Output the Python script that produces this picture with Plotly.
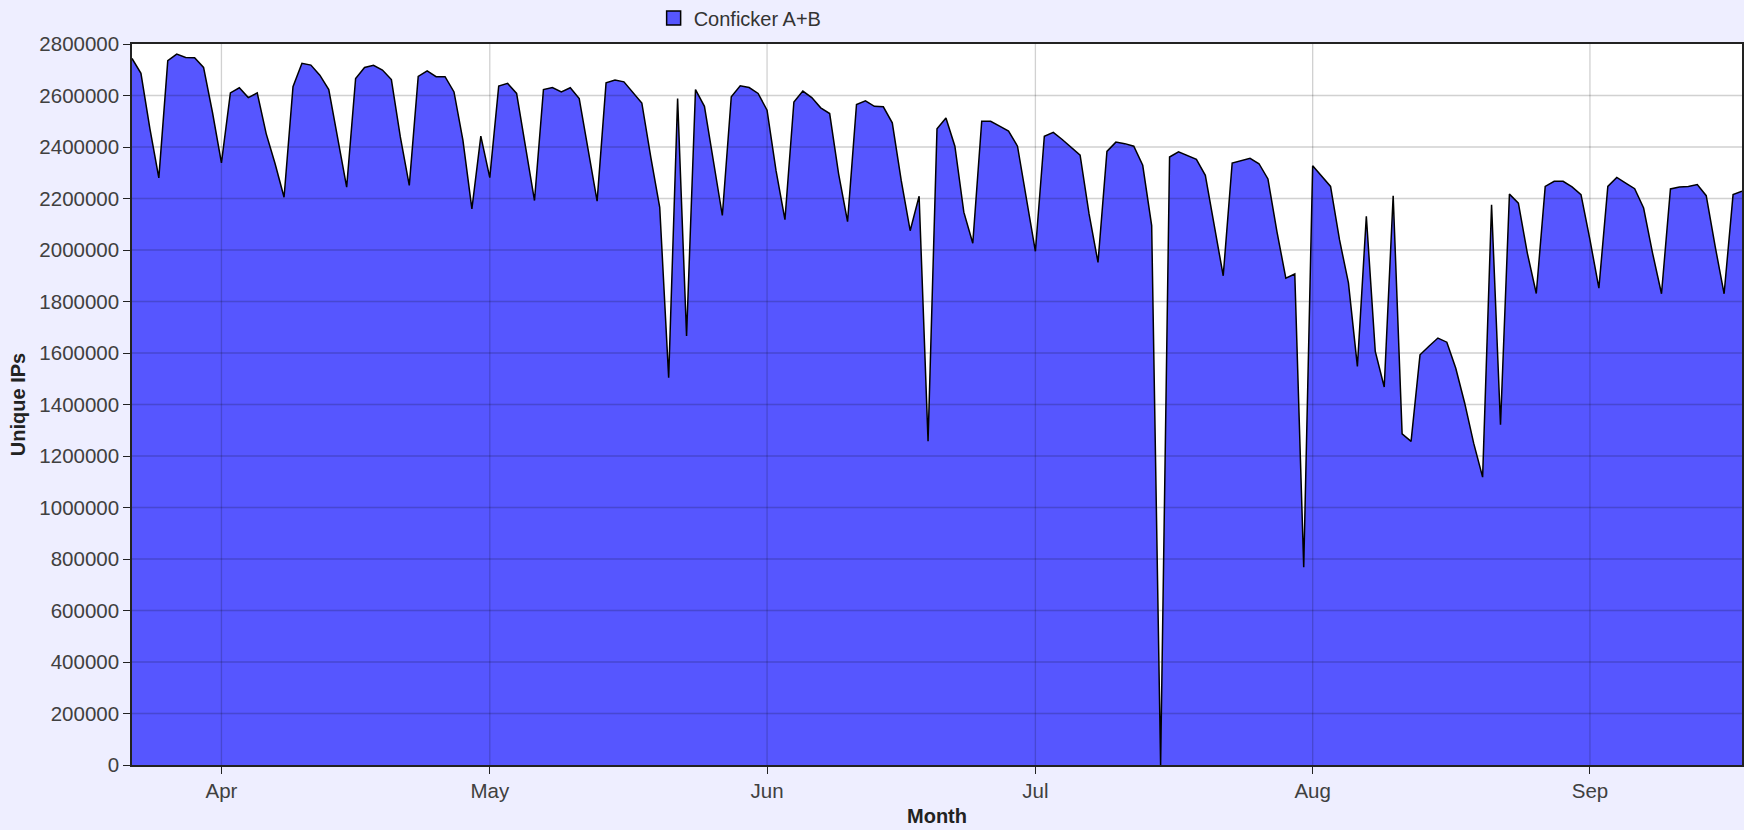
import pandas as pd
import plotly.graph_objects as go

# ---- data (daily unique IPs, 2009-03-22 .. 2009-09-18) ----
start_date = "2009-03-22"
mar_values = [2744000, 2686000, 2471000, 2280000, 2735000, 2761000, 2748000, 2747000, 2709000, 2534000]
apr_values = [2338000, 2610000, 2630000, 2592000, 2610000, 2452000, 2335000, 2205000, 2634000, 2725000,
              2718000, 2679000, 2623000, 2439000, 2244000, 2666000, 2709000, 2717000, 2699000, 2662000,
              2439000, 2251000, 2674000, 2696000, 2673000, 2673000, 2614000, 2426000, 2160000, 2442000]
may_values = [2281000, 2637000, 2647000, 2608000, 2400000, 2192000, 2623000, 2631000, 2614000, 2630000,
              2588000, 2387000, 2190000, 2649000, 2660000, 2653000, 2610000, 2571000, 2361000, 2166000,
              1504000, 2588000, 1666000, 2623000, 2558000, 2342000, 2134000, 2595000, 2638000, 2631000,
              2608000]
jun_values = [2543000, 2309000, 2118000, 2575000, 2617000, 2592000, 2552000, 2530000, 2296000, 2110000,
              2565000, 2579000, 2558000, 2556000, 2494000, 2270000, 2075000, 2209000, 1257000, 2471000,
              2513000, 2403000, 2147000, 2026000, 2500000, 2500000, 2481000, 2462000, 2403000, 2199000]
jul_values = [1995000, 2442000, 2457000, 2429000, 2400000, 2368000, 2140000, 1952000, 2383000, 2419000,
              2413000, 2403000, 2329000, 2095000, 0, 2361000, 2381000, 2368000, 2352000, 2290000,
              2088000, 1900000, 2338000, 2348000, 2356000, 2335000, 2276000, 2072000, 1891000, 1907000,
              768000]
aug_values = [2327000, 2286000, 2247000, 2040000, 1872000, 1548000, 2131000, 1606000, 1468000, 2211000,
              1286000, 1257000, 1593000, 1626000, 1658000, 1642000, 1541000, 1405000, 1250000, 1118000,
              2176000, 1321000, 2217000, 2182000, 1988000, 1831000, 2247000, 2267000, 2267000, 2245000,
              2215000]
sep_values = [2040000, 1852000, 2247000, 2282000, 2260000, 2238000, 2163000, 1988000, 1830000, 2237000,
              2245000, 2247000, 2254000, 2211000, 2014000, 1830000, 2215000, 2228000]

series_name = "Conficker A+B"
month_tick_dates = ["2009-04-01", "2009-05-01", "2009-06-01", "2009-07-01", "2009-08-01", "2009-09-01"]
month_tick_labels = ["Apr", "May", "Jun", "Jul", "Aug", "Sep"]
y_tick_values = list(range(0, 2800001, 200000))

values = mar_values + apr_values + may_values + jun_values + jul_values + aug_values + sep_values
dates = pd.date_range(start_date, periods=len(values), freq="D")

FONT = "Liberation Sans, Arial, sans-serif"
FILL = "rgb(86,86,255)"
BG = "rgb(238,238,255)"
GRID = "rgba(12,12,12,0.19)"

fig = go.Figure()
fig.add_trace(go.Scatter(
    x=dates, y=values, mode="lines", fill="tozeroy",
    fillcolor=FILL, line=dict(color="black", width=1.5),
    showlegend=False, hoverinfo="x+y",
))
# legend swatch entry
fig.add_trace(go.Scatter(
    x=[None], y=[None], mode="markers", name=series_name,
    marker=dict(symbol="square", size=14, color=FILL, line=dict(color="black", width=1.5)),
))

# grid lines drawn above the filled area (as in the reference)
shapes = []
for v in y_tick_values[1:-1]:
    shapes.append(dict(type="line", xref="paper", yref="y", x0=0, x1=1, y0=v, y1=v,
                       line=dict(color=GRID, width=1.3), layer="above"))
for d in month_tick_dates:
    shapes.append(dict(type="line", xref="x", yref="paper", x0=d, x1=d, y0=0, y1=1,
                       line=dict(color=GRID, width=1.3), layer="above"))

fig.update_layout(
    width=1744, height=830,
    paper_bgcolor=BG, plot_bgcolor="white",
    margin=dict(l=132, r=2, t=44, b=65, pad=0, autoexpand=False),
    font=dict(family=FONT, size=20, color="#404040"),
    shapes=shapes,
    legend=dict(x=0.324, xanchor="left", yref="container", y=0.9783, yanchor="middle",
                bgcolor="rgba(0,0,0,0)", font=dict(size=20, color="#333333"),
                orientation="h"),
    xaxis=dict(
        type="date", range=[dates[0], dates[-1]],
        tickvals=month_tick_dates, ticktext=month_tick_labels,
        showgrid=False, zeroline=False,
        showline=True, linecolor="#222222", linewidth=1.5, mirror=True,
        ticks="outside", ticklen=7, tickcolor="#222222", tickwidth=1.3,
        tickfont=dict(size=20.5, color="#404040"),
        title=dict(text="<b>Month</b>", font=dict(size=20, color="#222222"), standoff=8),
    ),
    yaxis=dict(
        range=[0, 2800000], tickvals=y_tick_values, tickformat="d",
        showgrid=False, zeroline=False,
        showline=True, linecolor="#222222", linewidth=1.5, mirror=True,
        ticks="outside", ticklen=7, tickcolor="#222222", tickwidth=1.3,
        tickfont=dict(size=20.5, color="#404040"),
        title=dict(text="<b>Unique IPs</b>", font=dict(size=20, color="#222222"), standoff=8),
    ),
)

fig.write_html(
    "out.html",
    config={"displayModeBar": False},
    post_script="document.body.style.margin='0';document.body.style.padding='0';"
                "document.body.style.overflow='hidden';",
)
